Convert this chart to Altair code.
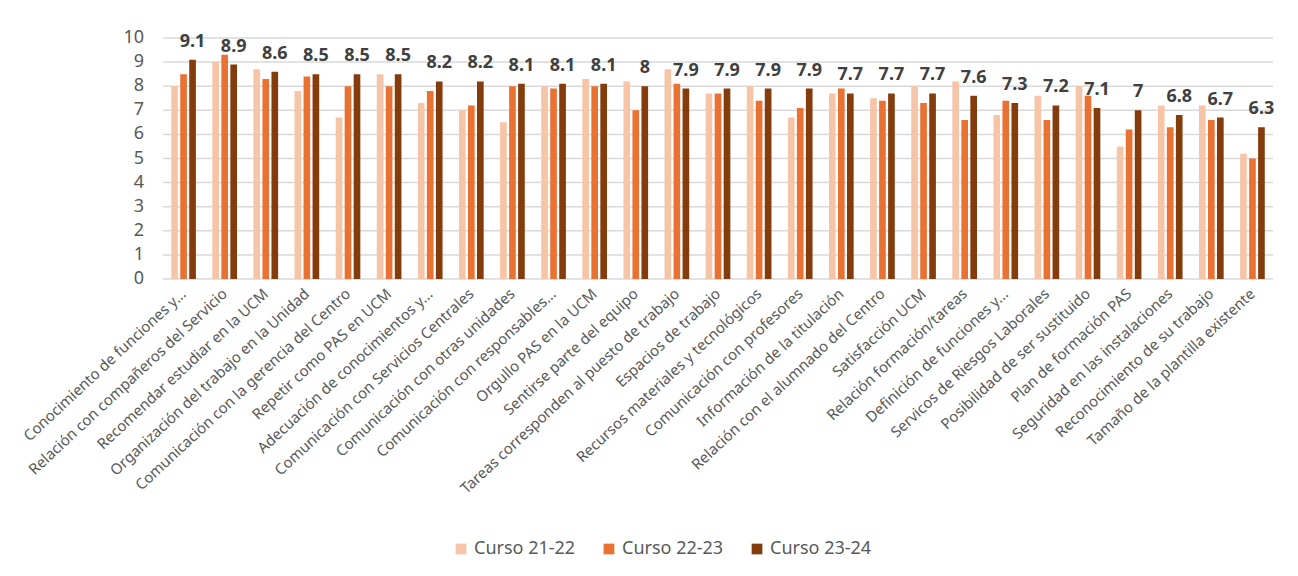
import altair as alt
import pandas as pd

categories = [
    "Conocimiento de funciones y...",
    "Relación con compañeros del Servicio",
    "Recomendar estudiar en la UCM",
    "Organización del trabajo en la Unidad",
    "Comunicación con la gerencia del Centro",
    "Repetir como PAS en UCM",
    "Adecuación de conocimientos y...",
    "Comunicación con Servicios Centrales",
    "Comunicación con otras unidades",
    "Comunicación con responsables...",
    "Orgullo PAS en la UCM",
    "Sentirse parte del equipo",
    "Tareas corresponden al puesto de trabajo",
    "Espacios de trabajo",
    "Recursos materiales y tecnológicos",
    "Comunicación con profesores",
    "Información de la titulación",
    "Relación con el alumnado del Centro",
    "Satisfacción UCM",
    "Relación formación/tareas",
    "Definición de funciones y...",
    "Servicos de Riesgos Laborales",
    "Posibilidad de ser sustituido",
    "Plan de formación PAS",
    "Seguridad en las instalaciones",
    "Reconocimiento de su trabajo",
    "Tamaño de la plantilla existente",
]

series_names = ["Curso 21-22", "Curso 22-23", "Curso 23-24"]
curso_21_22 = [8.0, 9.0, 8.7, 7.8, 6.7, 8.5, 7.3, 7.0, 6.5, 8.0, 8.3, 8.2, 8.7, 7.7,
               8.0, 6.7, 7.7, 7.5, 8.0, 8.2, 6.8, 7.6, 8.0, 5.5, 7.2, 7.2, 5.2]
curso_22_23 = [8.5, 9.3, 8.3, 8.4, 8.0, 8.0, 7.8, 7.2, 8.0, 7.9, 8.0, 7.0, 8.1, 7.7,
               7.4, 7.1, 7.9, 7.4, 7.3, 6.6, 7.4, 6.6, 7.6, 6.2, 6.3, 6.6, 5.0]
curso_23_24 = [9.1, 8.9, 8.6, 8.5, 8.5, 8.5, 8.2, 8.2, 8.1, 8.1, 8.1, 8.0, 7.9, 7.9,
               7.9, 7.9, 7.7, 7.7, 7.7, 7.6, 7.3, 7.2, 7.1, 7.0, 6.8, 6.7, 6.3]
colors = ["#F6C4A6", "#E97132", "#843C0C"]
y_ticks = [0, 1, 2, 3, 4, 5, 6, 7, 8, 9, 10]

rows = []
for name, vals in zip(series_names, [curso_21_22, curso_22_23, curso_23_24]):
    for c, v in zip(categories, vals):
        rows.append({"cat": c, "serie": name, "valor": v})
df = pd.DataFrame(rows)
ticks_df = pd.DataFrame({"t": y_ticks})

FONT = "Noto Sans"
GREY = "#595959"

x_axis = alt.Axis(
    labelAngle=-43,
    labelAlign="right",
    labelBaseline="middle",
    labelFontSize=15,
    labelColor=GREY,
    labelFont=FONT,
    labelLimit=400,
    ticks=False,
    domain=False,
    grid=False,
    labelPadding=12,
    labelOverlap=False,
)
x_scale = alt.Scale(paddingInner=0.4, paddingOuter=0.2)
xoff = alt.XOffset(
    "serie:N",
    sort=series_names,
    scale=alt.Scale(paddingInner=0.26, paddingOuter=0),
)
y_scale = alt.Scale(domain=[0, 10], nice=False)

grid = alt.Chart(ticks_df).mark_rule(color="#D9D9D9", strokeWidth=1.5).encode(
    y=alt.Y("t:Q", scale=y_scale, axis=None)
)

ylabels = alt.Chart(ticks_df).mark_text(
    align="right",
    baseline="middle",
    fontSize=18,
    color=GREY,
    font=FONT,
).encode(
    x=alt.value(-19),
    y=alt.Y("t:Q", scale=y_scale, axis=None),
    text=alt.Text("t:Q", format="d"),
)

bars = alt.Chart(df).mark_bar().encode(
    x=alt.X("cat:N", sort=categories, title=None, scale=x_scale, axis=x_axis),
    xOffset=xoff,
    y=alt.Y("valor:Q", title=None, scale=y_scale, axis=None),
    color=alt.Color(
        "serie:N",
        sort=series_names,
        scale=alt.Scale(domain=series_names, range=colors),
        legend=alt.Legend(
            title=None,
            orient="none",
            direction="horizontal",
            legendX=289,
            legendY=502,
            symbolType="square",
            symbolSize=115,
            symbolStrokeWidth=0,
            labelFontSize=18,
            labelColor=GREY,
            labelFont=FONT,
            columnPadding=24,
        ),
    ),
)

labels = alt.Chart(df).transform_filter(
    alt.datum.serie == "Curso 23-24"
).mark_text(
    baseline="bottom",
    dy=-9,
    fontSize=18,
    fontWeight="bold",
    color="#404040",
    font=FONT,
).encode(
    x=alt.X("cat:N", sort=categories),
    xOffset=xoff,
    y=alt.Y("valor:Q", scale=y_scale, axis=None),
    text=alt.Text("valor:Q", format="~g"),
)

chart = (
    alt.layer(grid, ylabels, bars, labels)
    .properties(
        width=1110,
        height=241,
        padding={"top": 21, "left": 12, "right": 10, "bottom": 5},
    )
    .configure_view(stroke=None)
)

chart.save("out.html", embed_options={"renderer": "svg", "actions": False})
